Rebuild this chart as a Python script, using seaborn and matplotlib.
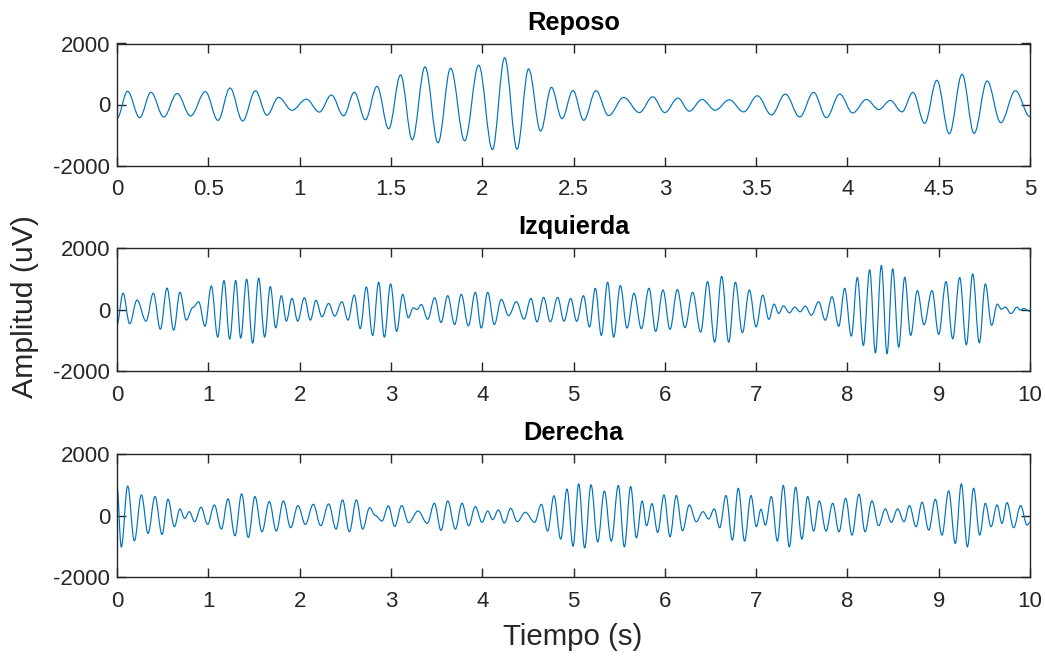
import numpy as np
import pandas as pd
import matplotlib
matplotlib.use("Agg")
import matplotlib.pyplot as plt
from matplotlib.path import Path
from matplotlib.patches import PathPatch
import seaborn as sns

# --- EEG traces: local extrema (time in s, amplitude in uV) ---
reposo_t = [0.000, 0.058, 0.124, 0.186, 0.256, 0.329, 0.403, 0.484, 0.553, 0.619,
            0.688, 0.758, 0.821, 0.885, 0.958, 1.037, 1.108, 1.174, 1.241, 1.300,
            1.360, 1.424, 1.488, 1.553, 1.617, 1.687, 1.758, 1.827, 1.904, 1.981,
            2.056, 2.123, 2.191, 2.254, 2.320, 2.379, 2.437, 2.497, 2.556, 2.623,
            2.692, 2.775, 2.861, 2.934, 3.000, 3.072, 3.134, 3.204, 3.276, 3.353,
            3.432, 3.507, 3.584, 3.660, 3.739, 3.815, 3.885, 3.958, 4.029, 4.104,
            4.172, 4.235, 4.299, 4.359, 4.423, 4.490, 4.558, 4.628, 4.694, 4.765,
            4.840, 4.920, 5.000]
reposo_v = [-450, 430, -430, 400, -410, 360, -375, 420, -520, 540,
            -540, 450, -350, 230, -190, 175, -250, 310, -370, 400,
            -500, 595, -795, 970, -1157, 1234, -1256, 1190, -1190, 1290,
            -1477, 1532, -1466, 1168, -870, 562, -463, 458, -518, 452,
            -364, 231, -264, 253, -264, 209, -220, 165, -187, 154,
            -242, 286, -342, 342, -408, 397, -430, 342, -276, 165,
            -165, 132, -242, 397, -617, 793, -959, 992, -948, 771,
            -595, 452, -400]

izq_t = [0.000, 0.066, 0.139, 0.219, 0.318, 0.398, 0.475, 0.548, 0.621, 0.690,
         0.759, 0.830, 0.894, 0.964, 1.033, 1.103, 1.172, 1.234, 1.300, 1.355,
         1.420, 1.486, 1.552, 1.617, 1.679, 1.738, 1.800, 1.855, 1.917, 1.979,
         2.052, 2.118, 2.180, 2.245, 2.318, 2.384, 2.464, 2.530, 2.599, 2.664,
         2.731, 2.800, 2.866, 2.928, 2.997, 3.063, 3.129, 3.191, 3.245, 3.286,
         3.333, 3.403, 3.480, 3.549, 3.622, 3.698, 3.771, 3.848, 3.925, 3.990,
         4.060, 4.133, 4.209, 4.290, 4.374, 4.458, 4.534, 4.600, 4.673, 4.746,
         4.826, 4.896, 4.969, 5.035, 5.109, 5.175, 5.239, 5.305, 5.374, 5.440,
         5.513, 5.586, 5.663, 5.743, 5.827, 5.900, 5.980, 6.057, 6.137, 6.221,
         6.305, 6.393, 6.469, 6.546, 6.623, 6.700, 6.773, 6.850, 6.926, 7.000,
         7.073, 7.139, 7.197, 7.248, 7.299, 7.365, 7.423, 7.481, 7.539, 7.605,
         7.685, 7.758, 7.832, 7.905, 7.970, 8.043, 8.109, 8.175, 8.244, 8.307,
         8.372, 8.434, 8.496, 8.562, 8.628, 8.693, 8.766, 8.839, 8.927, 9.000,
         9.080, 9.153, 9.230, 9.303, 9.372, 9.445, 9.511, 9.580, 9.642, 9.686,
         9.730, 9.792, 9.858, 9.894, 9.931, 10.000]
izq_v = [-487, 530, -465, 306, -378, 530, -640, 695, -673, 563,
         -345, 60, 252, -547, 767, -898, 942, -963, 942, -931,
         986, -1095, 1018, -898, 745, -597, 449, -378, 361, -378,
         383, -345, 296, -235, 197, -214, 252, -345, 471, -624,
         734, -843, 887, -898, 832, -712, 493, -268, 55, 0,
         164, -317, 383, -422, 449, -487, 493, -531, 558, -602,
         558, -487, 329, -203, 252, -312, 361, -400, 394, -400,
         394, -378, 361, -383, 449, -569, 690, -843, 887, -898,
         777, -602, 526, -624, 690, -712, 635, -646, 646, -591,
         558, -734, 909, -1062, 1073, -1062, 887, -756, 635, -569,
         471, -317, 175, -131, 120, -109, 77, -76, 110, -186,
         252, -350, 416, -547, 690, -865, 1040, -1172, 1292, -1413,
         1435, -1435, 1325, -1226, 1051, -843, 613, -493, 613, -810,
         909, -953, 1040, -1150, 1161, -1084, 832, -514, 175, 11,
         77, -131, 77, -22, 33, -60]

der_t = [0.000, 0.047, 0.117, 0.190, 0.267, 0.340, 0.416, 0.493, 0.559, 0.628,
         0.690, 0.741, 0.792, 0.851, 0.920, 0.993, 1.066, 1.143, 1.216, 1.292,
         1.365, 1.438, 1.511, 1.588, 1.668, 1.745, 1.822, 1.902, 1.982, 2.063,
         2.150, 2.231, 2.318, 2.399, 2.470, 2.545, 2.622, 2.691, 2.767, 2.829,
         2.902, 2.972, 3.042, 3.118, 3.194, 3.297, 3.399, 3.476, 3.549, 3.622,
         3.706, 3.779, 3.852, 3.925, 3.998, 4.060, 4.115, 4.177, 4.243, 4.312,
         4.384, 4.472, 4.574, 4.648, 4.717, 4.786, 4.860, 4.929, 4.995, 5.057,
         5.122, 5.192, 5.265, 5.338, 5.414, 5.491, 5.557, 5.626, 5.689, 5.752,
         5.801, 5.860, 5.922, 5.991, 6.057, 6.126, 6.195, 6.268, 6.345, 6.418,
         6.480, 6.542, 6.601, 6.670, 6.740, 6.805, 6.874, 6.944, 7.003, 7.053,
         7.101, 7.167, 7.233, 7.298, 7.364, 7.433, 7.501, 7.565, 7.630, 7.692,
         7.766, 7.839, 7.908, 7.981, 8.050, 8.127, 8.193, 8.269, 8.342, 8.415,
         8.481, 8.550, 8.620, 8.679, 8.752, 8.818, 8.891, 8.963, 9.036, 9.109,
         9.182, 9.248, 9.314, 9.383, 9.449, 9.511, 9.573, 9.639, 9.693, 9.748,
         9.821, 9.898, 9.967, 10.000]
der_v = [940, -1025, 960, -824, 670, -583, 616, -616, 528, -365,
         213, -93, 125, -202, 267, -289, 343, -441, 540, -660,
         703, -714, 616, -529, 452, -507, 474, -398, 322, -289,
         365, -332, 376, -441, 507, -529, 507, -441, 256, 0,
         -180, 311, -354, 322, -234, 147, -256, 398, -485, 474,
         -441, 398, -332, 289, -223, 147, -136, 180, -245, 234,
         -202, 104, -223, 365, -507, 643, -769, 861, -1000, 1030,
         -1052, 998, -860, 796, -835, 976, -1020, 943, -725, 474,
         -332, 387, -551, 670, -692, 649, -496, 343, -202, 125,
         -114, 213, -398, 649, -801, 888, -835, 649, -365, 202,
         -311, 616, -835, 976, -1020, 921, -769, 616, -507, 474,
         -507, 398, -529, 561, -638, 692, -529, 474, -332, 213,
         -223, 213, -202, 322, -365, 431, -474, 528, -638, 801,
         -910, 1030, -1020, 888, -638, 398, -365, 343, -256, 420,
         -398, 322, -311, -223]

titles = ["Reposo", "Izquierda", "Derecha"]
x_ticks_short = [0, 0.5, 1, 1.5, 2, 2.5, 3, 3.5, 4, 4.5, 5]
x_labels_short = ["0", "0.5", "1", "1.5", "2", "2.5", "3", "3.5", "4", "4.5", "5"]
x_ticks_long = [0, 1, 2, 3, 4, 5, 6, 7, 8, 9, 10]
x_labels_long = ["0", "1", "2", "3", "4", "5", "6", "7", "8", "9", "10"]
y_ticks = [-2000, 0, 2000]
y_labels = ["-2000", "0", "2000"]

# --- style ---
sns.set_theme(style="white")
plt.rcParams["font.family"] = ["Liberation Sans", "DejaVu Sans"]
AX_COLOR = "#262626"
LINE_COLOR = "#0072BD"
LINE_WIDTH = 0.85


def smooth_trace(ax, line):
    """Redraw a seaborn line as cubic Bezier arcs with flat tangents at each extremum."""
    xy = line.get_xydata()
    verts = [tuple(xy[0])]
    codes = [Path.MOVETO]
    k = 0.364
    for (x0, y0), (x1, y1) in zip(xy[:-1], xy[1:]):
        dx = x1 - x0
        verts += [(x0 + k * dx, y0), (x1 - k * dx, y1), (x1, y1)]
        codes += [Path.CURVE4] * 3
    patch = PathPatch(Path(verts, codes), fill=False, edgecolor=line.get_color(),
                      linewidth=line.get_linewidth(), capstyle="round",
                      joinstyle="round", clip_on=True)
    ax.add_patch(patch)
    line.remove()


W, H = 1045, 657
fig = plt.figure(figsize=(W / 100, H / 100), dpi=100)


def box(left, top, right, bottom):
    return [left / W, 1 - bottom / H, (right - left) / W, (bottom - top) / H]


panels = [
    (box(117, 43.5, 1030, 165.5), reposo_t, reposo_v, 5, x_ticks_short, x_labels_short),
    (box(117, 248, 1030, 371), izq_t, izq_v, 10, x_ticks_long, x_labels_long),
    (box(117, 454, 1030, 577), der_t, der_v, 10, x_ticks_long, x_labels_long),
]

for (rect, t, v, xmax, xt, xl), title in zip(panels, titles):
    ax = fig.add_axes(rect)
    df = pd.DataFrame({"t": t, "v": v})
    sns.lineplot(data=df, x="t", y="v", ax=ax, color=LINE_COLOR,
                 linewidth=LINE_WIDTH, estimator=None, sort=False)
    smooth_trace(ax, ax.lines[0])
    ax.set_xlim(0, xmax)
    ax.set_ylim(-2000, 2000)
    ax.set_xticks(xt, xl)
    ax.set_yticks(y_ticks, y_labels)
    ax.set_xlabel("")
    ax.set_ylabel("")
    for s in ax.spines.values():
        s.set_visible(True)
        s.set_color(AX_COLOR)
        s.set_linewidth(1.0)
    ax.tick_params(direction="in", length=6.5, width=1.0, color=AX_COLOR,
                   labelcolor=AX_COLOR, labelsize=16, top=True, right=True,
                   bottom=True, left=True)
    ax.tick_params(axis="x", pad=10)
    ax.tick_params(axis="y", pad=5)
    ax.set_title(title, fontsize=18.3, fontweight="bold", color="black", pad=10)

fig.text(25 / W, 1 - 307 / H, "Amplitud (uV)", rotation=90, ha="center",
         va="center", fontsize=21.8, color=AX_COLOR)
fig.text(573 / W, 1 - 637 / H, "Tiempo (s)", ha="center", va="center",
         fontsize=21.2, color=AX_COLOR)

fig.savefig("out.png", dpi=100, facecolor="white")
